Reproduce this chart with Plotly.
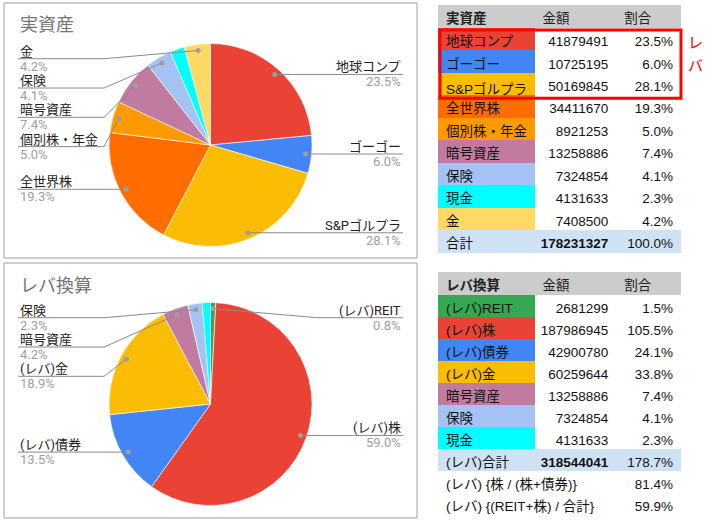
import math
import plotly.graph_objects as go

W, H = 705, 522

# 実資産
labels1 = ['地球コンプ', 'ゴーゴー', 'S&Pゴルプラ', '全世界株', '個別株・年金', '暗号資産', '保険', '現金', '金']
amounts1 = [41879491, 10725195, 50169845, 34411670, 8921253, 13258886, 7324854, 4131633, 7408500]
colors1 = ['#ea4335', '#4285f4', '#fbbc04', '#ff6d01', '#ff9900', '#c27ba0', '#a4c2f4', '#00ffff', '#ffd966']

# レバ換算
labels2 = ['(レバ)REIT', '(レバ)株', '(レバ)債券', '(レバ)金', '暗号資産', '保険', '現金']
amounts2 = [2681299, 187986945, 42900780, 60259644, 13258886, 7324854, 4131633]
colors2 = ['#34a853', '#ea4335', '#4285f4', '#fbbc04', '#c27ba0', '#a4c2f4', '#00ffff']

ratio_labels = ['(レバ) {株 / (株+債券)}', '(レバ) {(REIT+株) / 合計}']

# slices the chart did not label
unlabeled = ['現金']

total1 = sum(amounts1)
total2 = sum(amounts2)
ratios = [amounts2[1] / (amounts2[1] + amounts2[2]),
          (amounts2[0] + amounts2[1]) / total2]

HEAD_BG = '#cccccc'
TOTAL_BG = '#cfe2f3'
LABEL_FONT = 'Roboto, Noto Sans CJK JP, sans-serif'
TABLE_FONT = 'Liberation Sans, Arial, Noto Sans CJK JP, sans-serif'
COLW = [97, 82, 65]
TX0, TX1 = 438, 682


def px(x):
    return x / W


def py(y):
    return 1 - y / H


def pct(v, base):
    return f'{v / base * 100:.1f}%'


fig = go.Figure()
shapes = []
annotations = []


def add_pie(labels, values, colors, cx, cy, r, title, top):
    fig.add_trace(go.Pie(
        labels=labels, values=values, sort=False,
        direction='clockwise', rotation=0,
        marker=dict(colors=colors, line=dict(color='white', width=0.6)),
        textinfo='none', hoverinfo='label+percent', showlegend=False,
        domain=dict(x=[px(cx - r), px(cx + r)], y=[py(cy + r), py(cy - r)]),
    ))
    # chart frame + title
    shapes.append(dict(type='rect', xref='paper', yref='paper',
                       x0=px(4), x1=px(417), y0=py(top), y1=py(top + 255),
                       line=dict(color='#9e9e9e', width=1), layer='below'))
    annotations.append(dict(text=title, x=px(18), y=py(top + 22), xref='paper', yref='paper',
                            xanchor='left', yanchor='middle', showarrow=False,
                            font=dict(family=LABEL_FONT, size=18, color='#757575')))

    total = sum(values)
    cum = 0
    left, right = [], []
    for lab, v in zip(labels, values):
        mid = (cum + v / 2) / total * 2 * math.pi
        cum += v
        if lab in unlabeled:
            continue
        dx = cx + 0.94 * r * math.sin(mid)
        dy = cy - 0.94 * r * math.cos(mid)
        (right if math.sin(mid) >= 0 else left).append((lab, v / total, dx, dy))

    ymin = cy - 0.85 * r
    for side, items in (('l', left), ('r', right)):
        items.sort(key=lambda t: t[3])
        prev = -1e9
        for lab, frac, dx, dy in items:
            ly = max(dy, ymin, prev + 29.3)
            prev = ly
            ex = cx - r - 5 if side == 'l' else cx + r + 5
            tx = 18 if side == 'l' else 403
            shapes.append(dict(type='path', xref='paper', yref='paper', layer='above',
                               path=f'M {px(dx)} {py(dy)} L {px(ex)} {py(ly)} L {px(tx)} {py(ly)}',
                               line=dict(color='#8a8a8a', width=1)))
            shapes.append(dict(type='circle', xref='paper', yref='paper', layer='above',
                               x0=px(dx - 2.5), x1=px(dx + 2.5), y0=py(dy + 2.5), y1=py(dy - 2.5),
                               fillcolor='#9e9e9e', line=dict(width=0)))
            anchor = 'left' if side == 'l' else 'right'
            annotations.append(dict(text=lab, x=px(tx), y=py(ly - 7.5), xref='paper', yref='paper',
                                    xanchor=anchor, yanchor='middle', showarrow=False,
                                    font=dict(family=LABEL_FONT, size=13, color='#222222')))
            annotations.append(dict(text=f'{frac * 100:.1f}%', x=px(tx), y=py(ly + 7.5),
                                    xref='paper', yref='paper',
                                    xanchor=anchor, yanchor='middle', showarrow=False,
                                    font=dict(family=LABEL_FONT, size=13, color='#9e9e9e')))


def table_row(values, top, h, colw, fills, align, weight, color='#111111'):
    # one table row = one header-only go.Table, clipped to its own domain
    # (plotly grows rows holding '&' or spaces, so rows are kept apart);
    # each row runs 1px under the next one so no seams show
    fig.add_trace(go.Table(
        domain=dict(x=[px(TX0), px(TX1)], y=[py(top + h + 1), py(top)]),
        columnwidth=colw,
        header=dict(values=values, fill_color=fills, align=align, height=h + 1,
                    line=dict(width=0),
                    font=dict(family=TABLE_FONT, size=13.5, color=color, weight=weight)),
        cells=dict(values=[]),
    ))


def add_table(title, labels, amounts, colors, total_label, top, row_h):
    total = sum(amounts)
    y = top
    table_row([title, '金額', '割合'], y, 23, COLW, HEAD_BG, 'left',
              ['bold', 'normal', 'normal'], '#222222')
    y += 23
    for lab, a, c in zip(labels, amounts, colors):
        table_row([lab, str(a), pct(a, total1)], y, row_h, COLW, [c, 'white', 'white'],
                  ['left', 'right', 'right'], 'normal')
        y += row_h
    table_row([total_label, str(total), pct(total, total1)], y, row_h, COLW, TOTAL_BG,
              ['left', 'right', 'right'], ['normal', 'bold', 'normal'])
    return y + row_h


add_pie(labels1, amounts1, colors1, 210.5, 145, 101.5, '実資産', 3)
add_pie(labels2, amounts2, colors2, 210.5, 404, 101.5, 'レバ換算', 263)

add_table('実資産', labels1, amounts1, colors1, '合計', 5, 22.45)
b2 = add_table('レバ換算', labels2, amounts2, colors2, '(レバ)合計', 272.3, 22)

# ratio rows under the second table
for i, (lab, val) in enumerate(zip(ratio_labels, ratios)):
    table_row([lab, pct(val, 1)], b2 + 22 * i, 22, [COLW[0] + COLW[1], COLW[2]],
              'white', ['left', 'right'], 'normal')

# red box around the leveraged funds + side note
shapes.append(dict(type='rect', xref='paper', yref='paper', layer='above',
                   x0=px(440), x1=px(681), y0=py(98.3), y1=py(30),
                   line=dict(color='#ff0000', width=3)))
for i, ch in enumerate('レバ'):
    annotations.append(dict(text=ch, x=px(686), y=py(43 + 23 * i), xref='paper', yref='paper',
                            xanchor='left', yanchor='middle', showarrow=False,
                            font=dict(family=LABEL_FONT, size=15, color='#ff0000')))

fig.update_layout(
    width=W, height=H,
    margin=dict(l=0, r=0, t=0, b=0),
    paper_bgcolor='white', plot_bgcolor='white',
    shapes=shapes, annotations=annotations,
)

fig.write_html("out.html", config={'displayModeBar': False},
               post_script="document.body.style.margin = '0';")
